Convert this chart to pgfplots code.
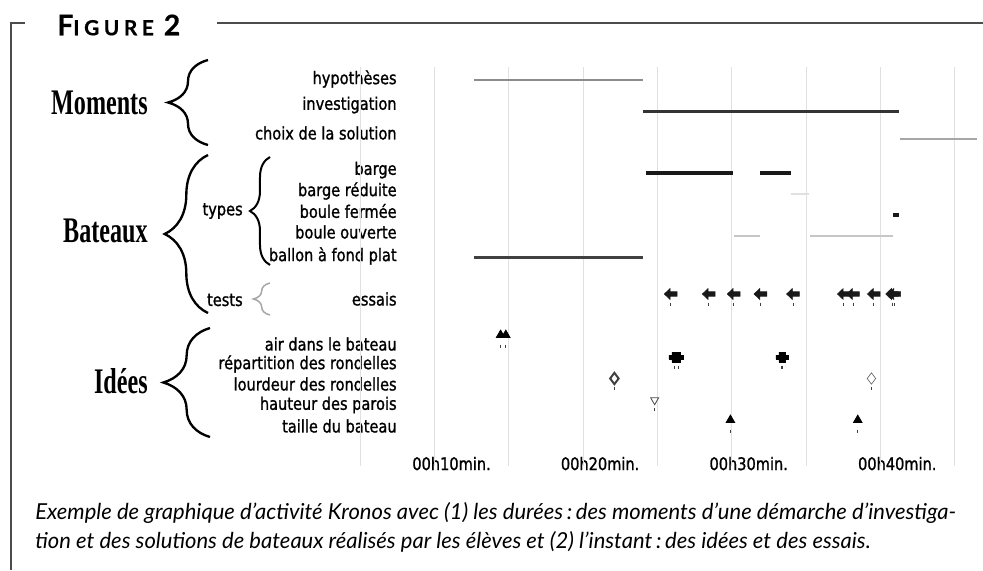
\documentclass[border=0pt]{standalone}
\usepackage{fontspec}
\usepackage{pgfplots}
\pgfplotsset{compat=1.18}
\usetikzlibrary{decorations.pathreplacing}
\setmainfont{Liberation Serif}
\newfontfamily\labfont[FakeStretch=0.84,FakeBold=1.2]{DejaVu Sans}
\newfontfamily\bigfont[FakeStretch=0.67]{Liberation Serif}
\newfontfamily\capfont{Lato}
\newfontfamily\figfont[LetterSpace=22,FakeBold=0.6]{Lato}

\pgfdeclareplotmark{larrow}{%
 \pgfpathmoveto{\pgfqpoint{-\pgfplotmarksize}{0pt}}%
 \pgfpathlineto{\pgfqpoint{-0.1\pgfplotmarksize}{0.85\pgfplotmarksize}}%
 \pgfpathlineto{\pgfqpoint{-0.1\pgfplotmarksize}{0.35\pgfplotmarksize}}%
 \pgfpathlineto{\pgfqpoint{\pgfplotmarksize}{0.35\pgfplotmarksize}}%
 \pgfpathlineto{\pgfqpoint{\pgfplotmarksize}{-0.35\pgfplotmarksize}}%
 \pgfpathlineto{\pgfqpoint{-0.1\pgfplotmarksize}{-0.35\pgfplotmarksize}}%
 \pgfpathlineto{\pgfqpoint{-0.1\pgfplotmarksize}{-0.85\pgfplotmarksize}}%
 \pgfpathclose\pgfusepathqfillstroke}
\pgfdeclareplotmark{bplus}{%
 \pgfpathmoveto{\pgfqpoint{-0.4\pgfplotmarksize}{\pgfplotmarksize}}%
 \pgfpathlineto{\pgfqpoint{0.4\pgfplotmarksize}{\pgfplotmarksize}}%
 \pgfpathlineto{\pgfqpoint{0.4\pgfplotmarksize}{0.4\pgfplotmarksize}}%
 \pgfpathlineto{\pgfqpoint{\pgfplotmarksize}{0.4\pgfplotmarksize}}%
 \pgfpathlineto{\pgfqpoint{\pgfplotmarksize}{-0.4\pgfplotmarksize}}%
 \pgfpathlineto{\pgfqpoint{0.4\pgfplotmarksize}{-0.4\pgfplotmarksize}}%
 \pgfpathlineto{\pgfqpoint{0.4\pgfplotmarksize}{-\pgfplotmarksize}}%
 \pgfpathlineto{\pgfqpoint{-0.4\pgfplotmarksize}{-\pgfplotmarksize}}%
 \pgfpathlineto{\pgfqpoint{-0.4\pgfplotmarksize}{-0.4\pgfplotmarksize}}%
 \pgfpathlineto{\pgfqpoint{-\pgfplotmarksize}{-0.4\pgfplotmarksize}}%
 \pgfpathlineto{\pgfqpoint{-\pgfplotmarksize}{0.4\pgfplotmarksize}}%
 \pgfpathlineto{\pgfqpoint{-0.4\pgfplotmarksize}{0.4\pgfplotmarksize}}%
 \pgfpathclose\pgfusepathqfillstroke}

\begin{document}
\begin{tikzpicture}
% ---------- frame, titles, braces (pixel-like coordinates) ----------
\begin{scope}[shift={(-213pt,279.6pt)}, x=0.6pt, y=-0.6pt]
 \useasboundingbox (0,0) rectangle (983,570);
 \draw[black!70, line width=0.9pt] (25,23) -- (11,23) -- (11,570);
 \draw[black!70, line width=0.9pt] (217,23) -- (983,23);
 \node[anchor=west, inner sep=0pt] at (57,25)
   {\figfont\bfseries\fontsize{17}{17}\selectfont F\fontsize{12.5}{13}\selectfont IGURE\hspace{6pt}\fontsize{17}{17}\selectfont 2};
 \node[anchor=east, inner sep=0pt, font=\bigfont\bfseries\fontsize{21.6}{22}\selectfont] at (148,103) {Moments};
 \node[anchor=east, inner sep=0pt, font=\bigfont\bfseries\fontsize{21.6}{22}\selectfont] at (148,231) {Bateaux};
 \node[anchor=east, inner sep=0pt, font=\bigfont\bfseries\fontsize{21.6}{22}\selectfont] at (148,381) {Idées};
 \draw[decorate, decoration={brace, amplitude=24pt}, line width=1.4pt] (208,145) -- (208,60);
 \draw[decorate, decoration={brace, amplitude=26pt}, line width=1.4pt] (208,313) -- (208,155);
 \draw[decorate, decoration={brace, amplitude=12pt}, line width=1.2pt] (270,265) -- (270,157);
 \draw[decorate, decoration={brace, amplitude=10pt}, line width=0.9pt, gray!70] (270,315) -- (270,283);
 \draw[decorate, decoration={brace, amplitude=28pt}, line width=1.4pt] (210,437) -- (210,328);
 \node[anchor=east, inner sep=0pt, font=\labfont\fontsize{10.4}{12}\selectfont] at (243,211) {types};
 \node[anchor=east, inner sep=0pt, font=\labfont\fontsize{10.4}{12}\selectfont] at (243,300) {tests};
 \node[anchor=west, inner sep=0pt, font=\capfont\itshape\fontsize{13.2}{15}\selectfont] at (35,513)
   {Exemple de graphique d’activité Kronos avec (1) les durées\,:\,des moments d’une démarche d’investiga-};
 \node[anchor=west, inner sep=0pt, font=\capfont\itshape\fontsize{13.2}{15}\selectfont] at (35,542)
   {tion et des solutions de bateaux réalisés par les élèves et (2) l’instant\,:\,des idées et des essais.};
\end{scope}

\begin{axis}[
 at={(0,0)}, anchor=south west, scale only axis,
 width=374.4pt, height=239.4pt,
 xmin=3.5, xmax=45.5, ymin=-466, ymax=-67,
 axis line style={draw=none},
 major tick length=0pt,
 xtick={10,20,30,40},
 xticklabels={00h10min.,00h20min.,00h30min.,00h40min.},
 xticklabel style={yshift=9pt, font=\labfont\fontsize{10.4}{12}\selectfont},
 extra x ticks={3.87,8.86,13.86,18.86,23.86,28.86,33.86,38.86,43.86},
 extra x tick labels={},
 extra x tick style={grid=major},
 major grid style={draw=black!12, line width=0.6pt},
 ytick={-426,-405,-384,-364,-344,-299,-256,-232,-211,-191,-170,-133,-105,-79},
 yticklabels={taille du bateau,hauteur des parois,lourdeur des rondelles,répartition des rondelles,air dans le bateau,essais,ballon à fond plat,boule ouverte,boule fermée,barge réduite,barge,choix de la solution,investigation,hypothèses},
 yticklabel style={anchor=east, xshift=28.5pt, font=\labfont\fontsize{10.4}{12}\selectfont},
 clip=false,
]
% Moments
\addplot[draw=black!45, line width=1.6pt] coordinates {(11.48,-80) (22.88,-80)};
\addplot[draw=black!80, line width=1.9pt] coordinates {(22.88,-111.5) (40.12,-111.5)};
\addplot[draw=black!35, line width=1.4pt] coordinates {(40.2,-139) (45.35,-139)};
% Types de bateaux
\addplot[draw=black!90, line width=2.3pt] coordinates {(23.06,-173) (28.94,-173)};
\addplot[draw=black!90, line width=2.3pt] coordinates {(30.79,-173) (32.87,-173)};
\addplot[draw=black!12, line width=1.2pt] coordinates {(32.87,-194) (34.06,-194)};
\addplot[draw=black!90, line width=2.4pt] coordinates {(39.72,-215) (40.12,-215)};
\addplot[draw=black!22, line width=1.3pt] coordinates {(29.01,-236) (30.74,-236)};
\addplot[draw=black!22, line width=1.3pt] coordinates {(34.1,-236) (39.72,-236)};
\addplot[draw=black!75, line width=1.9pt] coordinates {(11.48,-257.5) (22.88,-257.5)};
% Essais
\addplot[only marks, mark=larrow, mark size=3.8pt, black!90] coordinates {
 (24.75,-294) (27.31,-294) (28.99,-294) (30.79,-294) (32.98,-294)
 (36.40,-294) (37.02,-294) (38.42,-294) (39.65,-294) (39.80,-294)};
\addplot[only marks, mark=|, mark size=0.9pt, black!75, line width=0.5pt] coordinates {
 (24.75,-304) (27.31,-304) (28.99,-304) (30.79,-304) (32.98,-304)
 (36.40,-304) (37.02,-304) (38.42,-304) (39.65,-304) (39.80,-304)};
% Idées
\addplot[only marks, mark=triangle*, mark size=3pt, black] coordinates {(13.3,-335) (13.65,-335)};
\addplot[only marks, mark=|, mark size=0.9pt, black!75, line width=0.5pt] coordinates {(13.3,-346) (13.65,-346)};
\addplot[only marks, mark=bplus, mark size=3pt, black] coordinates {(24.97,-357) (25.29,-357) (32.17,-357) (32.30,-357)};
\addplot[only marks, mark=|, mark size=0.9pt, black!75, line width=0.5pt] coordinates {(24.97,-367) (25.29,-367) (32.17,-367) (32.30,-367)};
\addplot[only marks, mark=diamond, mark size=3.4pt, black!75, line width=1.2pt] coordinates {(20.96,-378.5)};
\addplot[only marks, mark=diamond, mark size=3.4pt, black!60, line width=0.4pt] coordinates {(38.26,-378.5)};
\addplot[only marks, mark=|, mark size=0.9pt, black!75, line width=0.5pt] coordinates {(20.96,-388) (38.26,-388)};
\addplot[only marks, mark=triangle, mark size=2.8pt, mark options={rotate=180}, black!70, line width=0.5pt] coordinates {(23.67,-400)};
\addplot[only marks, mark=|, mark size=0.9pt, black!75, line width=0.5pt] coordinates {(23.67,-409)};
\addplot[only marks, mark=triangle*, mark size=3pt, black] coordinates {(28.77,-420) (37.34,-420)};
\addplot[only marks, mark=|, mark size=0.9pt, black!75, line width=0.5pt] coordinates {(28.77,-431) (37.34,-431)};
\end{axis}
\end{tikzpicture}
\end{document}
